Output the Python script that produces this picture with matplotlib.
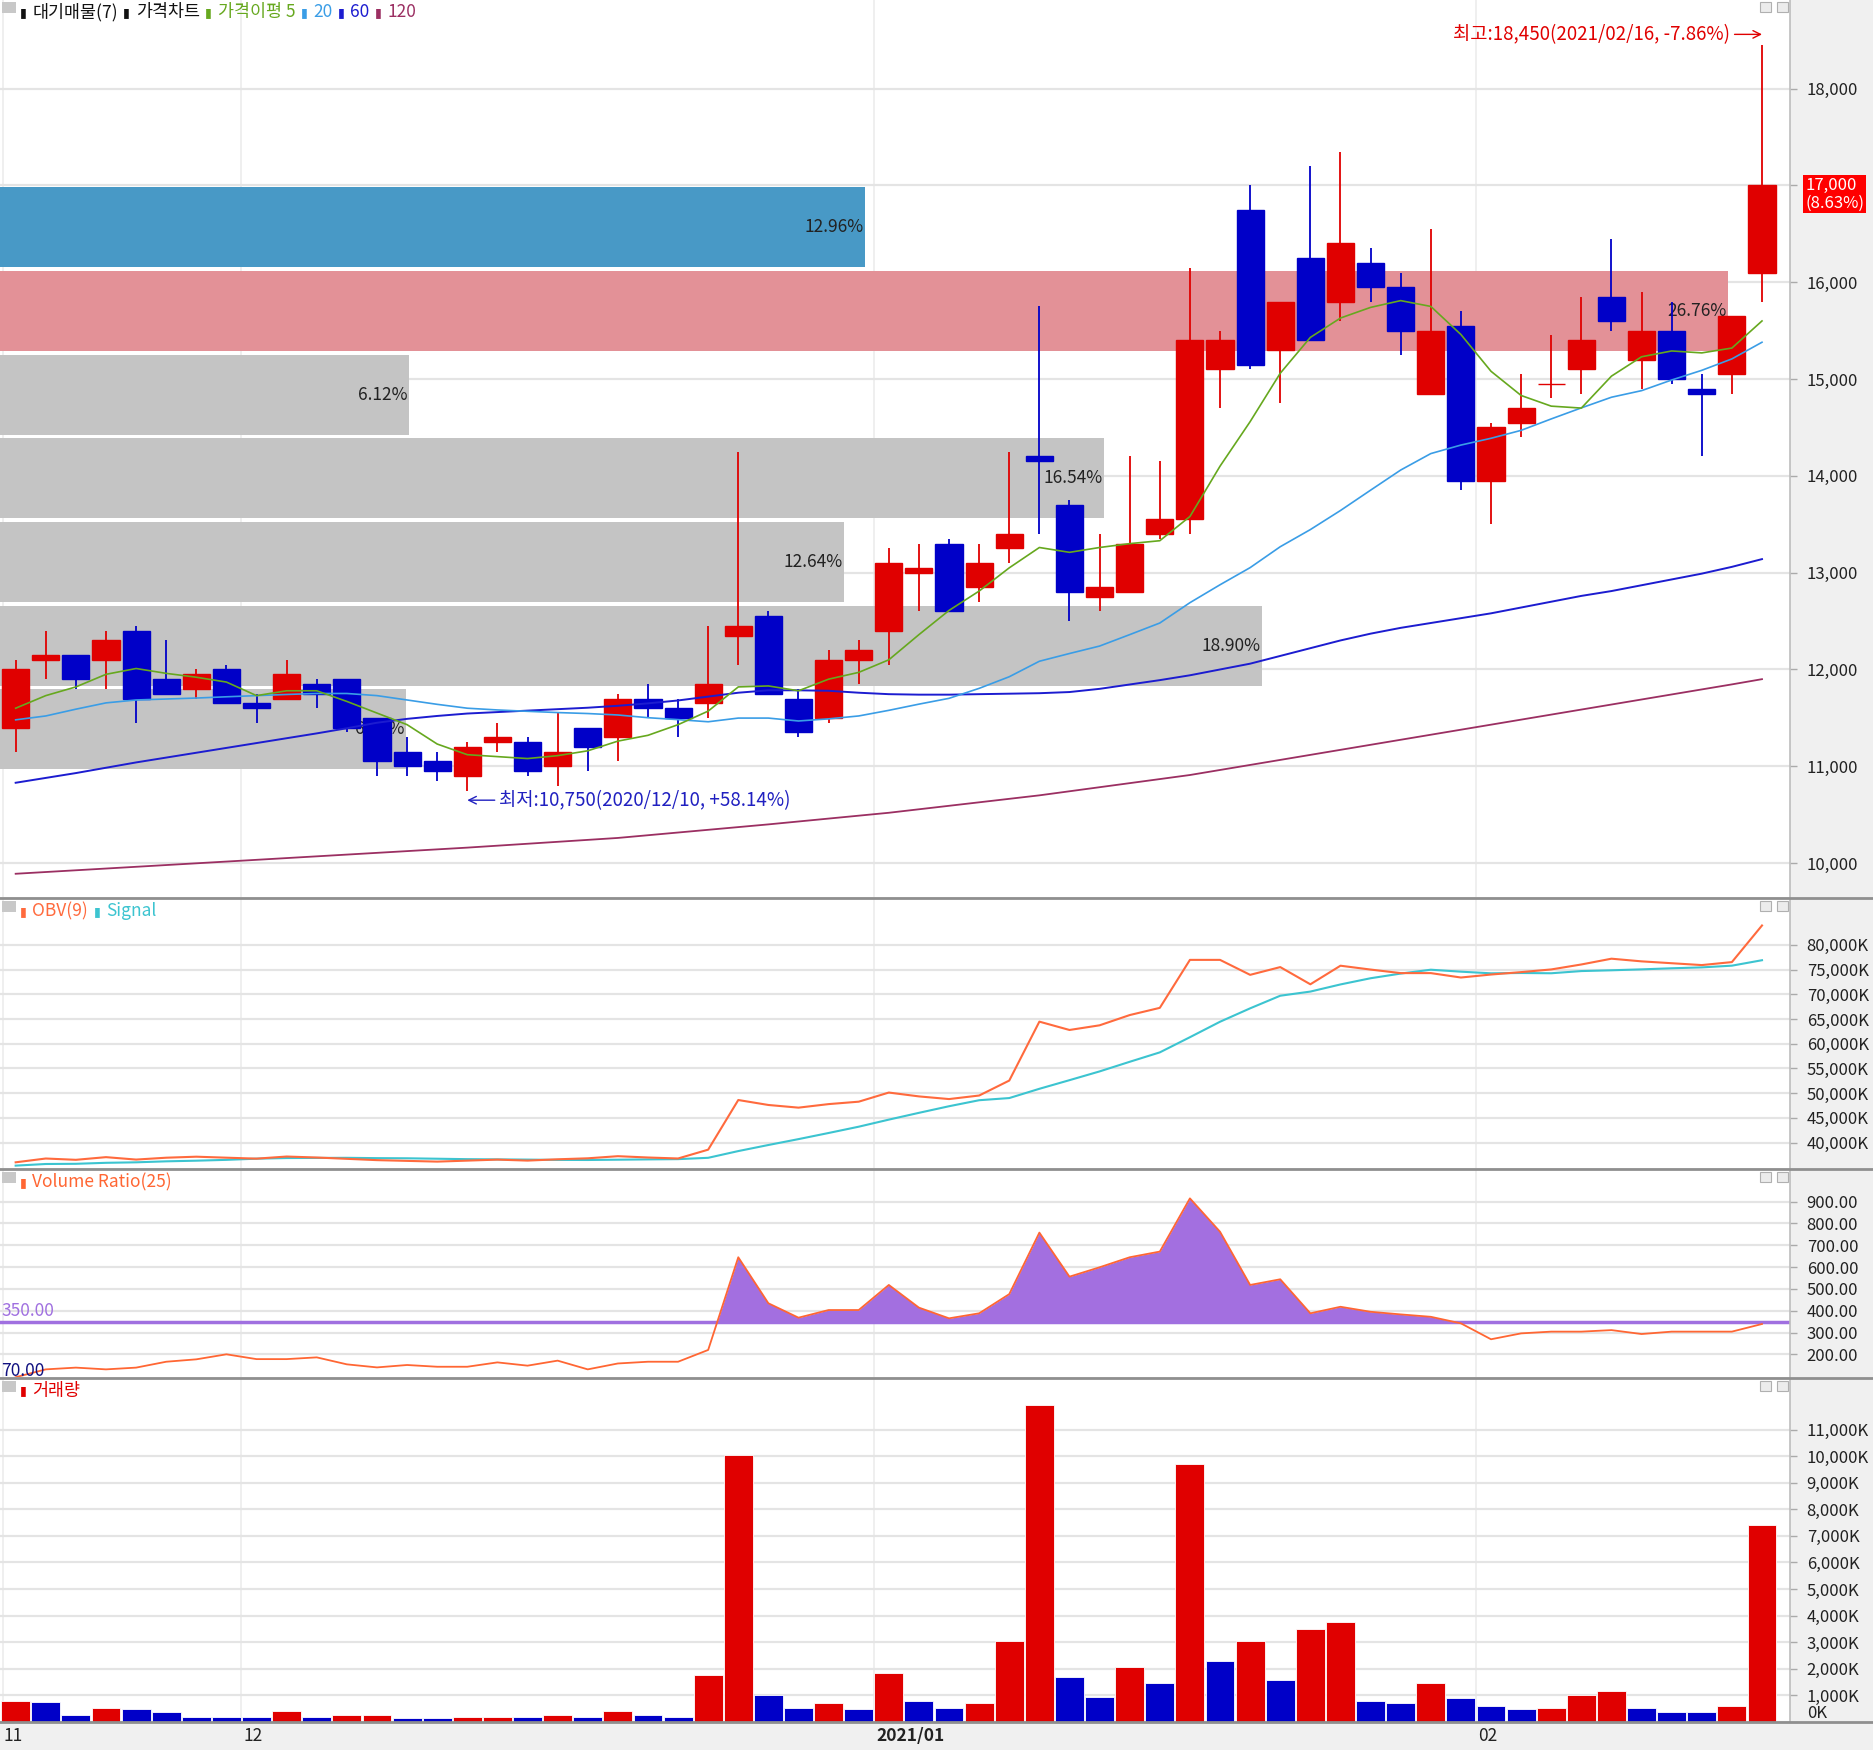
import matplotlib.pyplot as plt
import matplotlib.transforms as mtransforms
import numpy as np
from matplotlib.lines import Line2D
from matplotlib.offsetbox import AnchoredOffsetbox, HPacker, TextArea
from matplotlib.patches import Rectangle

plt.rcParams['font.family'] = ['Noto Sans CJK KR', 'DejaVu Sans']

# trading days shown (KRX)
nov = [19, 20, 23, 24, 25, 26, 27, 30]
dec = [1, 2, 3, 4, 7, 8, 9, 10, 11, 14, 15, 16, 17, 18, 21, 22, 23, 24, 28, 29, 30]
jan = [4, 5, 6, 7, 8, 11, 12, 13, 14, 15, 18, 19, 20, 21, 22, 25, 26, 27, 28, 29]
feb = [1, 2, 3, 4, 5, 8, 9, 10, 15, 16]
dates = ([f"2020/11/{d:02d}" for d in nov] + [f"2020/12/{d:02d}" for d in dec]
         + [f"2021/01/{d:02d}" for d in jan] + [f"2021/02/{d:02d}" for d in feb])

open_ = [11400, 12100, 12150, 12100, 12400, 11900, 11800, 12000, 11650, 11700,
         11850, 11900, 11500, 11150, 11050, 10900, 11250, 11250, 11000, 11400,
         11300, 11700, 11600, 11650, 12350, 12550, 11700, 11500, 12100, 12400,
         13000, 13300, 12850, 13250, 14200, 13700, 12750, 12800, 13400, 13550,
         15100, 16750, 15300, 16250, 15800, 16200, 15950, 14850, 15550, 13950,
         14550, 14950, 15100, 15850, 15200, 15500, 14900, 15050, 16100]
high = [12100, 12400, 12150, 12400, 12450, 12300, 12000, 12050, 11750, 12100,
        11900, 11900, 11500, 11300, 11150, 11250, 11450, 11300, 11550, 11400,
        11750, 11850, 11700, 12450, 14250, 12600, 11800, 12200, 12300, 13250,
        13300, 13350, 13300, 14250, 15750, 13750, 13400, 14200, 14150, 16150,
        15500, 17000, 15800, 17200, 17350, 16350, 16100, 16550, 15700, 14550,
        15050, 15450, 15850, 16450, 15900, 15800, 15050, 15650, 18450]
low = [11150, 11900, 11800, 11800, 11450, 11750, 11700, 11650, 11450, 11700,
       11600, 11350, 10900, 10900, 10850, 10750, 11150, 10900, 10800, 10950,
       11050, 11500, 11300, 11500, 12050, 11750, 11300, 11450, 11850, 12050,
       12600, 12600, 12700, 13100, 13400, 12500, 12600, 12800, 13350, 13400,
       14700, 15100, 14750, 15400, 15600, 15800, 15250, 14850, 13850, 13500,
       14400, 14800, 14850, 15500, 14900, 14950, 14200, 14850, 15800]
close = [12000, 12150, 11900, 12300, 11700, 11750, 11950, 11650, 11600, 11950,
         11750, 11400, 11050, 11000, 10950, 11200, 11300, 10950, 11150, 11200,
         11700, 11600, 11500, 11850, 12450, 11750, 11350, 12100, 12200, 13100,
         13050, 12600, 13100, 13400, 14150, 12800, 12850, 13300, 13550, 15400,
         15400, 15150, 15800, 15400, 16400, 15950, 15500, 15500, 13950, 14500,
         14700, 14950, 15400, 15600, 15500, 15000, 14850, 15650, 17000]
volume = [780, 770, 264, 540, 490, 377, 205, 200, 195, 428,
          200, 264, 266, 150, 148, 200, 205, 200, 264, 200,
          428, 264, 200, 1786, 10050, 1006, 540, 717, 490, 1850,
          780, 540, 717, 3030, 11925, 1686, 943, 2075, 1460, 9710,
          2300, 3030, 1570, 3480, 3760, 780, 717, 1460, 893, 604,
          490, 540, 1006, 1170, 540, 377, 375, 604, 7410]

ma5 = [11600, 11730, 11820, 11950, 12010, 11960, 11920, 11870, 11730, 11780,
       11780, 11670, 11550, 11430, 11230, 11120, 11100, 11080, 11110, 11160,
       11260, 11320, 11430, 11570, 11820, 11830, 11780, 11900, 11970, 12100,
       12360, 12610, 12810, 13050, 13260, 13210, 13260, 13300, 13330, 13580,
       14100, 14560, 15060, 15430, 15630, 15740, 15810, 15750, 15460, 15080,
       14830, 14720, 14700, 15030, 15230, 15290, 15270, 15320, 15600]
ma20 = [11480, 11520, 11590, 11655, 11685, 11695, 11705, 11718, 11730, 11742,
        11752, 11752, 11730, 11685, 11640, 11600, 11582, 11568, 11555, 11545,
        11530, 11502, 11482, 11460, 11498, 11498, 11468, 11490, 11520, 11578,
        11642, 11702, 11805, 11925, 12085, 12165, 12242, 12360, 12480, 12690,
        12875, 13052, 13268, 13445, 13642, 13852, 14060, 14230, 14318, 14388,
        14470, 14588, 14702, 14812, 14880, 14990, 15090, 15208, 15380]
ma60 = [10830, 10880, 10930, 10985, 11040, 11090, 11140, 11190, 11240, 11290,
        11340, 11393, 11450, 11490, 11520, 11545, 11560, 11575, 11590, 11605,
        11625, 11650, 11680, 11720, 11760, 11785, 11785, 11780, 11760, 11745,
        11740, 11740, 11745, 11750, 11755, 11767, 11800, 11845, 11890, 11940,
        12000, 12060, 12140, 12220, 12300, 12370, 12430, 12480, 12530, 12580,
        12640, 12700, 12760, 12810, 12870, 12930, 12990, 13060, 13140]
ma120 = [9890, 9908, 9926, 9944, 9962, 9980, 9998, 10016, 10034, 10052,
         10070, 10088, 10106, 10124, 10142, 10160, 10180, 10200, 10220, 10240,
         10260, 10288, 10316, 10344, 10372, 10400, 10430, 10460, 10490, 10520,
         10556, 10592, 10628, 10664, 10700, 10742, 10784, 10826, 10868, 10910,
         10962, 11014, 11066, 11118, 11170, 11222, 11274, 11326, 11378, 11430,
         11482, 11534, 11586, 11638, 11690, 11742, 11794, 11846, 11900]

obv = [36000, 36770, 36506, 37046, 36556, 36933, 37138, 36938, 36743, 37171,
       36971, 36707, 36441, 36291, 36143, 36343, 36548, 36348, 36612, 36812,
       37240, 36976, 36776, 38562, 48612, 47606, 47066, 47783, 48273, 50123,
       49343, 48803, 49520, 52550, 64475, 62789, 63732, 65807, 67267, 76977,
       76977, 73947, 75517, 72037, 75797, 75017, 74300, 74300, 73407, 74011,
       74501, 75041, 76047, 77217, 76677, 76300, 75925, 76529, 83939]
obv_signal = [35330, 35660, 35700, 35900, 36000, 36200, 36330, 36500, 36737, 36867,
              36889, 36911, 36844, 36815, 36727, 36639, 36595, 36551, 36489, 36472,
              36531, 36590, 36644, 36913, 38276, 39505, 40696, 41937, 43210, 44642,
              46016, 47352, 48570, 49007, 50882, 52629, 54401, 56349, 58254, 61324,
              64455, 67169, 69721, 70561, 72006, 73260, 74204, 74985, 74589, 74259,
              74321, 74268, 74713, 74871, 75056, 75278, 75458, 75805, 76908]

vol_ratio = [95, 131, 139, 131, 139, 166, 177, 200, 178, 178,
             186, 154, 140, 151, 143, 143, 163, 148, 171, 131,
             158, 166, 166, 220, 645, 434, 368, 403, 403, 518,
             414, 365, 388, 476, 758, 556, 599, 645, 671, 915,
             762, 518, 544, 388, 418, 395, 383, 372, 342, 269,
             296, 304, 304, 311, 293, 304, 304, 304, 339]
vr_level = 350

# 대기매물 (volume at price), 7 bands, bottom to top
profile_pct = [6.08, 18.90, 12.64, 16.54, 6.12, 26.76, 12.96]

RED, BLUE = '#e00000', '#0000c8'
C5, C20, C60, C120 = '#66a81e', '#3a9de6', '#1c1cd0', '#9b2f62'
W, H = 1874, 1750
XL = (-0.52, 58.93)
FS = 12.5

o, h, l, c = map(np.array, (open_, high, low, close))
x = np.arange(len(c))
vol = np.array(volume)
up = c >= o
cols = np.where(up, RED, BLUE)
vcols = np.where(np.r_[True, vol[1:] > vol[:-1]], RED, BLUE)

months = [d[:7] for d in dates]
mstart = [i for i in range(1, len(dates)) if months[i] != months[i - 1]]

fig = plt.figure(figsize=(18.74, 17.5), dpi=100, facecolor='#f0f0f0')


def panel(top, bottom):
    return fig.add_axes([0, 1 - bottom / H, 1790 / W, (bottom - top) / H])


def style(ax, ticks, labels, ylim):
    ax.set_facecolor('white')
    ax.set_xlim(*XL)
    ax.set_ylim(*ylim)
    ax.set_yticks(ticks)
    ax.set_yticklabels(labels)
    ax.yaxis.tick_right()
    ax.tick_params(axis='y', length=5, width=1, color='#aaaaaa', pad=7,
                   labelsize=12, labelcolor='#222222')
    ax.set_xticks([])
    ax.grid(axis='y', color='#e4e4e4', lw=1.6)
    ax.axvline(XL[0] + 0.1, color='#ececec', lw=1.2, zorder=0)
    for m in mstart:
        ax.axvline(m - 0.5, color='#ececec', lw=1.2, zorder=0)
    ax.set_axisbelow(True)
    for s in ('top', 'left', 'bottom'):
        ax.spines[s].set_visible(False)
    ax.spines['right'].set_color('#bdbdbd')
    ax.spines['right'].set_linewidth(1.2)


def legend(ax, parts):
    kids = []
    for txt, col in parts:
        kids.append(TextArea('▮', textprops=dict(color=col, fontsize=9, family=['DejaVu Sans'])))
        kids.append(TextArea(txt, textprops=dict(color=col, fontsize=FS)))
    pack = HPacker(children=kids, align='center', pad=0, sep=4)
    shift = ax.transAxes + mtransforms.ScaledTranslation(0, -3 / 100, fig.dpi_scale_trans)
    box = AnchoredOffsetbox(loc='upper left', child=pack, frameon=False, pad=0, borderpad=0,
                            bbox_to_anchor=(0.011, 1.0), bbox_transform=shift)
    ax.add_artist(box)


tops = [0, 899, 1170, 1379]
ax_p = panel(0, 897)
ax_o = panel(899, 1168)
ax_v = panel(1170, 1377)
ax_q = panel(1379, 1722)

# ---- price panel ----
pticks = np.arange(10000, 18001, 1000)
style(ax_p, pticks, ['' if t == c[-1] else f"{t:,}" for t in pticks], (9650, 18915))

edges = np.linspace(c.min(), c.max(), len(profile_pct) + 1)
step = edges[1] - edges[0]
pct = np.array(profile_pct)
bcol = np.full(len(pct), '#c4c4c4', dtype=object)
bcol[np.argmax(pct)] = '#e39197'
bcol[min(np.searchsorted(edges, c[-1]) - 1, len(pct) - 1)] = '#4899c6'
widths = np.minimum(pct * 2.217, 57.4)
ax_p.barh(edges[:-1] + step / 2, widths, height=step * 0.955, left=XL[0], color=list(bcol), zorder=1)
for yc, wd, p in zip(edges[:-1] + step / 2, widths, pct):
    ax_p.text(XL[0] + wd - 0.05, yc, f"{p:.2f}%", ha='right', va='center', fontsize=FS,
              color='#222222', zorder=1.5)

ax_p.vlines(x, l, h, colors=cols, lw=1.3, zorder=3)
ax_p.bar(x, np.abs(c - o), bottom=np.minimum(o, c), width=0.9, color=cols, edgecolor=cols,
         linewidth=1.0, zorder=3.1)
ax_p.plot(x, ma120, color=C120, lw=1.3, zorder=4)
ax_p.plot(x, ma60, color=C60, lw=1.4, zorder=4)
ax_p.plot(x, ma20, color=C20, lw=1.2, zorder=4)
ax_p.plot(x, ma5, color=C5, lw=1.2, zorder=4)

hi_i, lo_i = int(np.argmax(h)), int(np.argmin(l))
ax_p.annotate(f"최고:{h[hi_i]:,}({dates[hi_i]}, {(c[-1] / h[hi_i] - 1) * 100:+.2f}%)",
              xy=(hi_i, 18560), xytext=(hi_i - 1.05, 18560), ha='right', va='center',
              fontsize=13.5, color='#e00000',
              arrowprops=dict(arrowstyle='->', color='#e00000', lw=1.0, shrinkA=1, shrinkB=0))
ax_p.annotate(f"최저:{l[lo_i]:,}({dates[lo_i]}, {(c[-1] / l[lo_i] - 1) * 100:+.2f}%)",
              xy=(lo_i, 10650), xytext=(lo_i + 1.05, 10650), ha='left', va='center',
              fontsize=13.5, color='#2020c0',
              arrowprops=dict(arrowstyle='->', color='#2020c0', lw=1.0, shrinkA=1, shrinkB=0))
chg = (c[-1] / c[-2] - 1) * 100
ax_p.text(1.0085, c[-1] + 90, f"{c[-1]:,}\n({chg:.2f}%)", fontsize=12, color='white',
          ha='left', va='top', linespacing=1.05,
          transform=mtransforms.blended_transform_factory(ax_p.transAxes, ax_p.transData),
          bbox=dict(boxstyle='square,pad=0.12', fc='#ff0000', ec='none'), zorder=10)
legend(ax_p, [('대기매물(7)', '#111111'), ('가격차트', '#111111'), ('가격이평 5', C5),
              ('20', C20), ('60', C60), ('120', C120)])

# ---- OBV panel ----
oticks = np.arange(40000, 80001, 5000)
style(ax_o, oticks, [f"{t:,}K" for t in oticks], (34850, 89300))
ax_o.plot(x, obv_signal, color='#3cc4d0', lw=1.5, zorder=3)
ax_o.plot(x, obv, color='#ff6a3d', lw=1.5, zorder=3)
legend(ax_o, [('OBV(9)', '#ff6a3d'), ('Signal', '#3cc4d0')])

# ---- Volume Ratio panel ----
vticks = np.arange(200, 901, 100)
style(ax_v, vticks, [f"{t:.2f}" for t in vticks], (96, 1045))
vr = np.array(vol_ratio, dtype=float)
ax_v.fill_between(x, vr, vr_level, where=vr > vr_level, interpolate=True, color='#a36fe0',
                  lw=0, zorder=2)
ax_v.axhline(vr_level, color='#a070e0', lw=2.5, zorder=2.5)
ax_v.plot(x, vr, color='#ff6633', lw=1.3, zorder=3)
ax_v.text(XL[0] + 0.05, vr_level + 8, f"{vr_level:.2f}", color='#a070e0', fontsize=FS,
          ha='left', va='bottom')
ax_v.text(XL[0] + 0.05, 80, "70.00", color='#101080', fontsize=FS, ha='left', va='bottom')
legend(ax_v, [('Volume Ratio(25)', '#ff6633')])

# ---- Volume panel ----
qticks = np.arange(0, 11001, 1000)
style(ax_q, qticks, [f"{t:,}K" for t in qticks], (0, 12900))
ax_q.yaxis.get_major_ticks()[0].label2.set_va('bottom')
ax_q.bar(x, vol, width=0.96, color=vcols, edgecolor='white', linewidth=0.6, zorder=3)
legend(ax_q, [('거래량', '#e00000')])

xt = mtransforms.blended_transform_factory(ax_q.transData, ax_q.transAxes)
ax_q.text(XL[0] + 0.1, -0.041, months[0][5:], transform=xt, ha='left', va='center',
          fontsize=FS, color='#222222')
for m in mstart:
    yy, mm = months[m].split('/')
    lab = f"{yy}/{mm}" if mm == '01' else mm
    ax_q.text(m - 0.42, -0.041, lab, transform=xt, ha='left', va='center', fontsize=FS,
              color='#222222', fontweight='bold' if mm == '01' else 'normal')

# frame lines and small window icons
for yline in (897.5, 1168.5, 1378, 1722):
    fig.add_artist(Line2D([0, 1], [1 - yline / H] * 2, transform=fig.transFigure,
                          color='#8f8f8f', lw=2))
for t in tops:
    fig.add_artist(Rectangle((2 / W, 1 - (t + 13) / H), 14 / W, 11 / H, transform=fig.transFigure,
                             fc='#c8c8c8', ec='none'))
    for xi in (1760, 1777):
        fig.add_artist(Rectangle((xi / W, 1 - (t + 12) / H), 11 / W, 10 / H,
                                 transform=fig.transFigure, fc='#ececec', ec='#b0b0b0', lw=0.8))

fig.savefig('out.png', dpi=100, facecolor=fig.get_facecolor())
